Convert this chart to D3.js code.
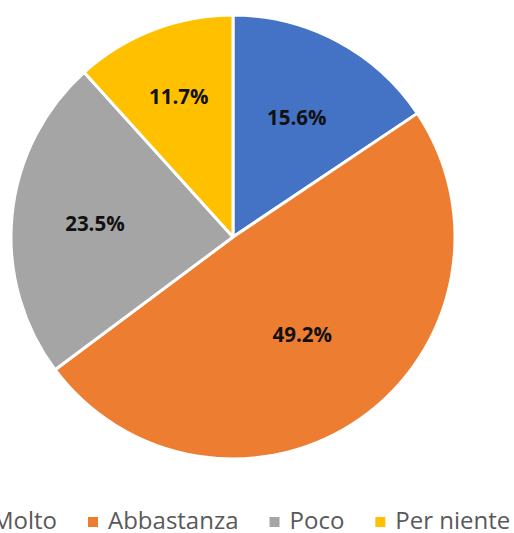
<!DOCTYPE html>
<html>
<head>
<meta charset="utf-8">
<script src="https://cdn.jsdelivr.net/npm/d3@7"></script>
<style>
  html, body { margin: 0; padding: 0; background: #fff; }
  svg { display: block; }
</style>
</head>
<body>
<svg id="chart" width="514" height="533"></svg>
<script>
// Survey answers and their shares (%)
const categories = ["Molto", "Abbastanza", "Poco", "Per niente"];
const values = [15.6, 49.2, 23.5, 11.7];
const colors = ["#4472C4", "#ED7D31", "#A5A5A5", "#FFC000"];

const svg = d3.select("#chart");
const cx = 233, cy = 237, r = 222;

const pie = d3.pie().sort(null).value(d => d.value);
const arcs = pie(categories.map((c, i) => ({ name: c, value: values[i] })));

const arc = d3.arc().innerRadius(0).outerRadius(r);
const g = svg.append("g").attr("transform", `translate(${cx},${cy})`);

const color = d3.scaleOrdinal().domain(categories).range(colors);

g.selectAll("path.slice")
  .data(arcs)
  .join("path")
  .attr("class", "slice")
  .attr("d", arc)
  .attr("fill", d => color(d.data.name))
  .attr("stroke", "#fff")
  .attr("stroke-width", 3)
  .attr("stroke-linejoin", "round");

// Label radius as a fraction of the pie radius, tuned per slice for a best-fit look
const labelFrac = { "Molto": 0.61, "Abbastanza": 0.54, "Poco": 0.625, "Per niente": 0.68 };
g.selectAll("text.lbl")
  .data(arcs)
  .join("text")
  .attr("class", "lbl")
  .attr("transform", d => {
    const lr = r * labelFrac[d.data.name];
    const c = d3.arc().innerRadius(lr).outerRadius(lr).centroid(d);
    return `translate(${c[0]},${c[1]})`;
  })
  .attr("text-anchor", "middle")
  .attr("dy", "0.36em")
  .attr("font-family", "'Open Sans', sans-serif")
  .attr("font-weight", "bold")
  .attr("font-size", 20.5)
  .attr("fill", "#111")
  .text(d => d.data.value.toFixed(1) + "%");

// Legend along the bottom, laid out from measured text widths
const legend = svg.append("g").attr("transform", "translate(0,529)");
const fontSize = 24;
const sw = 10, gapSwatch = 10, gapItem = 31;
const items = legend.selectAll("g.item").data(categories).join("g").attr("class", "item");
items.append("rect")
  .attr("width", sw).attr("height", sw)
  .attr("y", -12)
  .attr("fill", d => color(d));
items.append("text")
  .attr("x", sw + gapSwatch)
  .attr("font-family", "'Open Sans', sans-serif")
  .attr("font-size", fontSize)
  .attr("fill", "#595959")
  .text(d => d);

// Position items so that the "Abbastanza" swatch starts at x=88
let widths = [];
items.each(function () { widths.push(this.getBBox().width); });
let xs = [];
let x = 0;
widths.forEach((w, i) => { xs.push(x); x += w + gapItem; });
const shift = 88 - xs[1];
items.attr("transform", (d, i) => `translate(${xs[i] + shift},0)`);
</script>
</body>
</html>
